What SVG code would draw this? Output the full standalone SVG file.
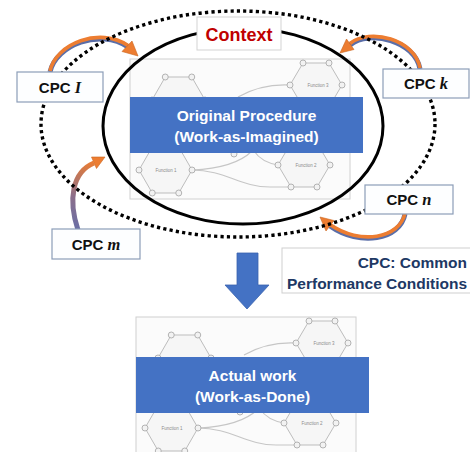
<svg xmlns="http://www.w3.org/2000/svg" width="470" height="452" viewBox="0 0 470 452">
  <style>
    .sans { font-family: "Liberation Sans", Arial, sans-serif; }
    .banner { fill: #4472C4; }
    .banner-text { font-family: "Liberation Sans", Arial, sans-serif; font-weight: bold; font-size: 15.5px; fill: #FFFFFF; text-anchor: middle; }
    .cpc-box { fill: #FDFEFF; stroke: #8C9DB8; stroke-width: 1.2; }
    .cpc-text { font-family: "Liberation Sans", Arial, sans-serif; font-weight: bold; font-size: 15px; fill: #111111; text-anchor: middle; }
    .cpc-var { font-family: "Liberation Serif", "Times New Roman", serif; font-style: italic; font-weight: bold; font-size: 16.5px; }
    .hex { fill: #F6F6F6; stroke: #BDBDBD; stroke-width: 1; }
    .link { fill: none; stroke: #C6C6C6; stroke-width: 1.1; }
    .port { fill: #F2F2F2; stroke: #ABABAB; stroke-width: 0.9; }
    .fn-label { font-family: "Liberation Sans", Arial, sans-serif; font-size: 4.5px; fill: #8A8A8A; text-anchor: middle; }
    .band { fill: none; stroke: #5A6EA8; stroke-width: 5; }
    .band-top { fill: none; stroke: #ED7D31; stroke-width: 3.6; }
    .head { fill: #ED7D31; stroke: #C9651F; stroke-width: 0.6; }
  </style>
  <defs>
    <!-- FRAM model sketch: four functions with their aspect ports -->
    <g id="fram-model">
      <rect x="0" y="0" width="220" height="140" fill="#FBFBFB" stroke="#D0D0D0" stroke-width="1"/>
      <path class="link" d="M62,111 C95,111 110,128 140,128 L161,128"/>
      <path class="link" d="M62,111 C85,110 108,106 122,92"/>
      <path class="link" d="M148,106 C136,104 128,98 124,92"/>
      <path class="link" d="M160,26 C140,25 122,30 108,38"/>
      <polygon class="hex" points="22,41 35.25,18 61.75,18 75,41 61.75,64 35.25,64"/>
      <polygon class="hex" points="9,111 22.25,88 48.75,88 62,111 48.75,134 22.25,134"/>
      <polygon class="hex" points="160,26 173,4 199,4 212,26 199,48 173,48"/>
      <polygon class="hex" points="148,106 161,84 187,84 200,106 187,128 161,128"/>
      <g class="port">
        <circle cx="22" cy="41" r="3"/><circle cx="35.25" cy="18" r="3"/><circle cx="61.75" cy="18" r="3"/>
        <circle cx="75" cy="41" r="3"/><circle cx="61.75" cy="64" r="3"/><circle cx="35.25" cy="64" r="3"/>
        <circle cx="9" cy="111" r="3"/><circle cx="22.25" cy="88" r="3"/><circle cx="48.75" cy="88" r="3"/>
        <circle cx="62" cy="111" r="3"/><circle cx="48.75" cy="134" r="3"/><circle cx="22.25" cy="134" r="3"/>
        <circle cx="160" cy="26" r="3"/><circle cx="173" cy="4" r="3"/><circle cx="199" cy="4" r="3"/>
        <circle cx="212" cy="26" r="3"/><circle cx="199" cy="48" r="3"/><circle cx="173" cy="48" r="3"/>
        <circle cx="148" cy="106" r="3"/><circle cx="161" cy="84" r="3"/><circle cx="187" cy="84" r="3"/>
        <circle cx="200" cy="106" r="3"/><circle cx="187" cy="128" r="3"/><circle cx="161" cy="128" r="3"/>
        <circle cx="104" cy="95" r="3"/>
      </g>
      <text class="fn-label" x="36" y="112.5">Function 1</text>
      <text class="fn-label" x="188" y="27.5">Function 3</text>
      <text class="fn-label" x="176" y="107.5">Function 2</text>
    </g>
    <linearGradient id="grad-m" gradientUnits="userSpaceOnUse" x1="78" y1="230" x2="96" y2="162">
      <stop offset="0" stop-color="#6A6FA6"/>
      <stop offset="0.45" stop-color="#8C6E8A"/>
      <stop offset="1" stop-color="#ED7D31"/>
    </linearGradient>
  </defs>

  <!-- original procedure (work-as-imagined) -->
  <g id="procedure">
    <use href="#fram-model" x="130" y="59"/>
    <rect class="banner" x="130" y="97" width="233" height="56"/>
    <text class="banner-text" x="246.5" y="121">Original Procedure</text>
    <text class="banner-text" x="246.5" y="142">(Work-as-Imagined)</text>
  </g>

  <!-- boundary of the procedure -->
  <g id="procedure-boundary">
    <ellipse cx="243" cy="126" rx="140" ry="98" fill="none" stroke="#000" stroke-width="3"/>
  </g>

  <g id="connectors">
    <!-- CPC l -->
    <path class="band" d="M50,72 C56,45 100,28 128,47"/>
    <path class="band-top" d="M50,71 C56,43.5 100,26.5 128,45.5"/>
    <polygon class="head" points="138,56 122,51.5 132,41"/>
    <!-- CPC k -->
    <path class="band" d="M420,69 C415,41 370,29 350,45"/>
    <path class="band-top" d="M420,68 C415,39.5 370,27.5 350,43.5"/>
    <polygon class="head" points="340,53 354,49.5 346.5,39"/>
    <!-- CPC m -->
    <path fill="none" stroke="url(#grad-m)" stroke-width="5" d="M78,230 C68,200 72,172 94,163"/>
    <polygon class="head" points="105,157 96.5,168.5 91.5,157"/>
    <!-- CPC n -->
    <path class="band" d="M405,214 C400,240 360,247 330,226"/>
    <path class="band-top" d="M405,213 C400,238.5 360,245.5 330,224.5"/>
    <polygon class="head" points="320,217 334,220.5 326,231"/>
    <!-- procedure becomes actual work -->
    <polygon points="237,253 258,253 258,285 269,285 247,309 225,285 237,285" fill="#4472C4" stroke="#3A63AE" stroke-width="0.8"/>
  </g>

  <!-- context ring -->
  <g id="context-ring">
    <ellipse cx="238" cy="124" rx="197" ry="113" fill="none" stroke="#000" stroke-width="3.4" stroke-dasharray="3.2 3.2"/>
  </g>

  <g id="context-label">
    <rect x="197" y="17" width="84" height="33" fill="#FFFFFF" stroke="#D3D3D3" stroke-width="1"/>
    <text class="sans" x="239" y="40.5" font-size="18" font-weight="bold" fill="#C00000" text-anchor="middle">Context</text>
  </g>

  <g id="cpc-l">
    <rect class="cpc-box" x="17" y="72" width="86" height="30"/>
    <text class="cpc-text" x="60" y="92.5">CPC <tspan class="cpc-var">I</tspan></text>
  </g>
  <g id="cpc-k">
    <rect class="cpc-box" x="383" y="69" width="86" height="29"/>
    <text class="cpc-text" x="426" y="89">CPC <tspan class="cpc-var">k</tspan></text>
  </g>
  <g id="cpc-m">
    <rect class="cpc-box" x="52" y="229" width="88" height="30"/>
    <text class="cpc-text" x="96" y="249.5">CPC <tspan class="cpc-var">m</tspan></text>
  </g>
  <g id="cpc-n">
    <rect class="cpc-box" x="365" y="185" width="88" height="29"/>
    <text class="cpc-text" x="409" y="205">CPC <tspan class="cpc-var">n</tspan></text>
  </g>

  <g id="legend">
    <rect x="282" y="248" width="192" height="45" fill="#FFFFFF" stroke="#CFCFCF" stroke-width="1"/>
    <text class="sans" x="467" y="268" font-size="15.5" font-weight="bold" fill="#203864" text-anchor="end">CPC: Common</text>
    <text class="sans" x="467" y="289" font-size="15.5" font-weight="bold" fill="#203864" text-anchor="end">Performance Conditions</text>
  </g>

  <!-- actual work (work-as-done) -->
  <g id="actual-work">
    <use href="#fram-model" x="136" y="317"/>
    <rect class="banner" x="136" y="357" width="233" height="56"/>
    <text class="banner-text" x="252.5" y="381">Actual work</text>
    <text class="banner-text" x="252.5" y="402">(Work-as-Done)</text>
  </g>
</svg>
